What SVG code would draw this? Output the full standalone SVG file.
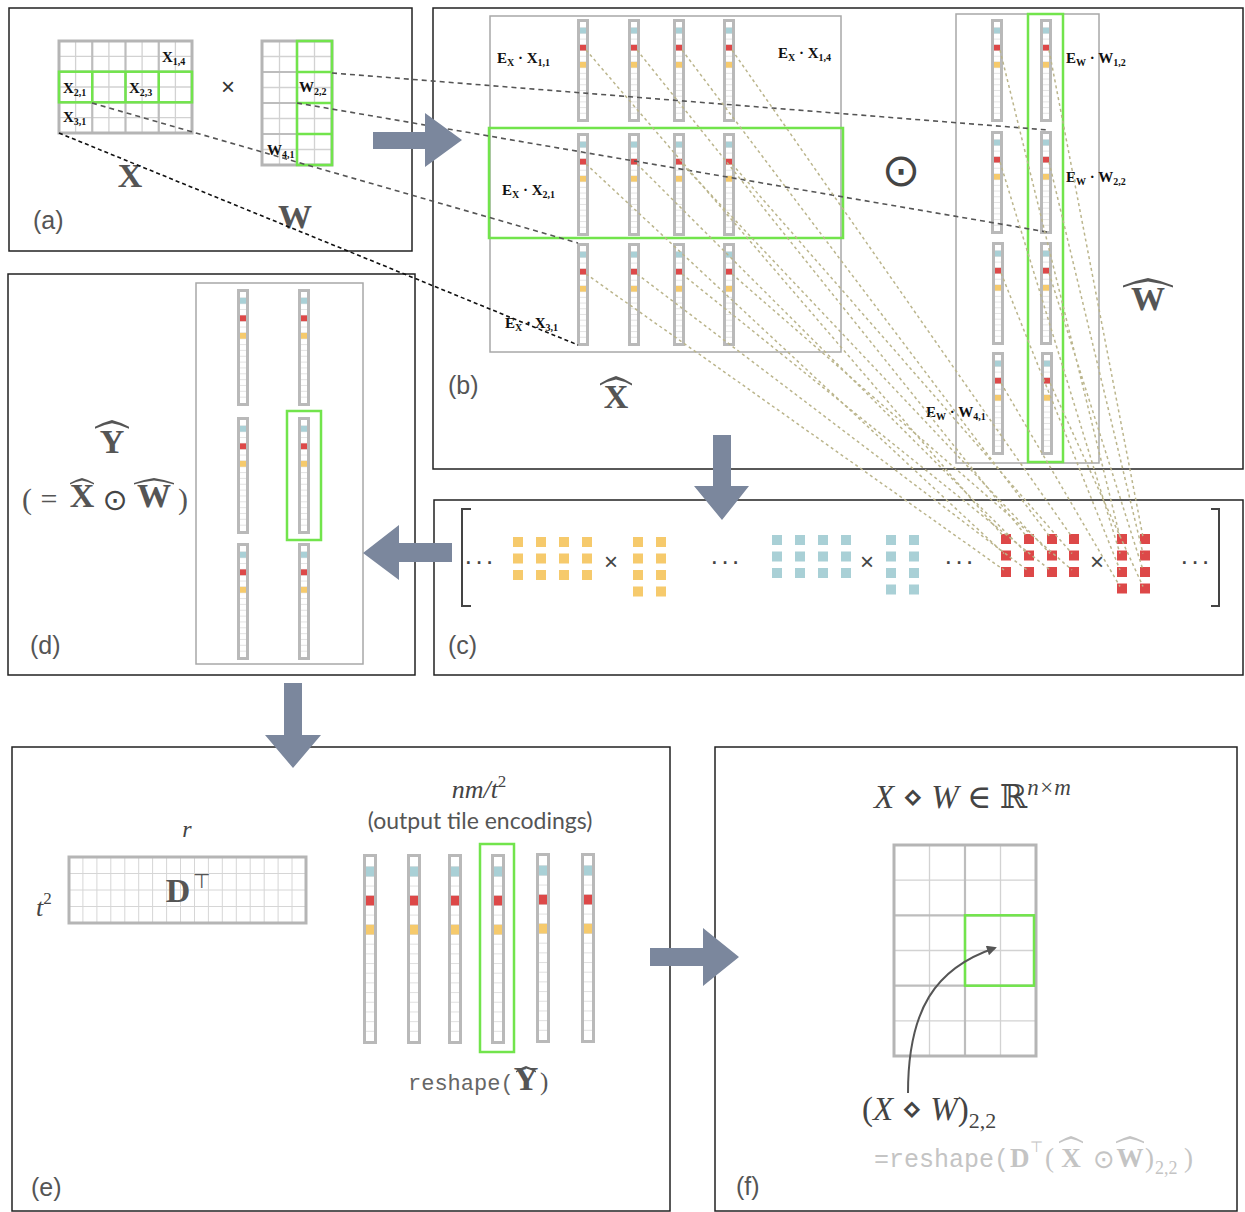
<svg xmlns="http://www.w3.org/2000/svg" width="1245" height="1212" viewBox="0 0 1245 1212">
<style>
.panel{fill:none;stroke:#222;stroke-width:1.5}
.inbox{fill:none;stroke:#a8a8a8;stroke-width:1.5}
.green{fill:none;stroke:#72e44c;stroke-width:2.5}
.gl{stroke:#72e44c;stroke-width:2.5;fill:none}
.thin{stroke:#d2d2d2;stroke-width:1.3;fill:none}
.thick{stroke:#bdbdbd;stroke-width:2.2;fill:none}
.outer{fill:none;stroke:#b5b5b5;stroke-width:3}
.lbl{font-family:"Liberation Sans",Arial,sans-serif;font-size:25px;fill:#555}
.bs{font-family:"Liberation Serif","Times New Roman",serif;font-weight:bold;fill:#111;font-size:15px}
.big{font-family:"Liberation Serif","Times New Roman",serif;font-weight:bold;font-size:34px;fill:#555}
.it{font-family:"Liberation Serif","DejaVu Serif",serif;font-style:italic;fill:#444}
.mono{font-family:"Liberation Mono","Courier New",monospace}
.arrow{fill:#7b879d}
.dg{stroke:#555;stroke-width:1.6;stroke-dasharray:5 4;fill:none}
.dk{stroke:#111;stroke-width:1.6;stroke-dasharray:4 3;fill:none}
.ol{stroke:#bbb58c;stroke-width:1.5;stroke-dasharray:3 3;fill:none}
.sy{fill:#f6ca6c}.st{fill:#a9d0d6}.sr{fill:#dd4848}
.hat{fill:#555}
.op{font-family:"DejaVu Sans",sans-serif;fill:#444}
</style>
<defs>
<path id="hat" d="M-1,0.62 Q-0.5,0.2 0,0 Q0.5,0.2 1,0.62 L1,0.8 Q0.5,0.42 0,0.3 Q-0.5,0.42 -1,0.8 Z"/>
<g id="vb">
<rect x="1.5" y="1.5" width="9" height="100" fill="#fff" stroke="#b9b9b9" stroke-width="3"/>
<path d="M3 8.71h6M3 14.41h6M3 20.12h6M3 25.82h6M3 31.53h6M3 37.24h6M3 42.94h6M3 48.65h6M3 54.35h6M3 60.06h6M3 65.77h6M3 71.47h6M3 77.18h6M3 82.88h6M3 88.59h6M3 94.3h6" stroke="#dcdcdc" stroke-width="0.8"/>
<rect x="3" y="8.71" width="6" height="5.7" fill="#a9d0d6"/>
<rect x="3" y="25.82" width="6" height="5.7" fill="#dd4848"/>
<rect x="3" y="42.94" width="6" height="5.7" fill="#f6ca6c"/>
</g>
<g id="vd">
<rect x="1.5" y="1.5" width="9" height="114" fill="#fff" stroke="#b9b9b9" stroke-width="3"/>
<path d="M3 8.84h6M3 14.68h6M3 20.53h6M3 26.37h6M3 32.21h6M3 38.05h6M3 43.89h6M3 49.74h6M3 55.58h6M3 61.42h6M3 67.26h6M3 73.1h6M3 78.95h6M3 84.79h6M3 90.63h6M3 96.47h6M3 102.32h6M3 108.16h6" stroke="#dcdcdc" stroke-width="0.8"/>
<rect x="3" y="8.84" width="6" height="5.84" fill="#a9d0d6"/>
<rect x="3" y="26.37" width="6" height="5.84" fill="#dd4848"/>
<rect x="3" y="43.89" width="6" height="5.84" fill="#f6ca6c"/>
</g>
<g id="ve">
<rect x="1.5" y="1.5" width="11" height="187" fill="#fff" stroke="#b9b9b9" stroke-width="3"/>
<path d="M3 12.68h8M3 22.37h8M3 32.05h8M3 41.74h8M3 51.42h8M3 61.1h8M3 70.79h8M3 80.47h8M3 90.16h8M3 99.84h8M3 109.52h8M3 119.21h8M3 128.89h8M3 138.58h8M3 148.26h8M3 157.94h8M3 167.63h8M3 177.31h8" stroke="#dcdcdc" stroke-width="0.9"/>
<rect x="3" y="12.68" width="8" height="9.68" fill="#a9d0d6"/>
<rect x="3" y="41.74" width="8" height="9.68" fill="#dd4848"/>
<rect x="3" y="70.79" width="8" height="9.68" fill="#f6ca6c"/>
</g>
<marker id="ah" viewBox="0 0 10 10" refX="8" refY="5" markerUnits="userSpaceOnUse" markerWidth="11" markerHeight="10" orient="auto"><path d="M0,0 L10,5 L0,10 z" fill="#555"/></marker>
</defs>
<rect width="1245" height="1212" fill="#fff"/>

<!-- Panel (a) -->
<g id="panel-a">
<rect class="panel" x="9" y="8" width="403" height="243"/>
<g id="matrix-X">
<path class="thin" d="M75.6 41V133M108.9 41V133M142.1 41V133M175.4 41V133M59 56.3H192M59 87H192M59 117.7H192"/>
<path class="thick" d="M92.25 41V133M125.5 41V133M158.75 41V133M59 71.7H192M59 102.3H192"/>
<rect class="outer" x="59" y="41" width="133" height="92"/>
<rect class="green" x="59" y="71.7" width="133" height="30.6"/>
<path class="gl" d="M92.25 71.7V102.3M125.5 71.7V102.3M158.75 71.7V102.3"/>
<text class="bs" x="162" y="62">X<tspan font-size="10" dy="3">1,4</tspan></text>
<text class="bs" x="63" y="93">X<tspan font-size="10" dy="3">2,1</tspan></text>
<text class="bs" x="129" y="93">X<tspan font-size="10" dy="3">2,3</tspan></text>
<text class="bs" x="63" y="122">X<tspan font-size="10" dy="3">3,1</tspan></text>
<text class="big" x="130" y="187" text-anchor="middle">X</text>
</g>
<text x="228" y="95" font-family="Liberation Sans,Arial,sans-serif" font-size="24" fill="#333" text-anchor="middle">×</text>
<g id="matrix-W">
<path class="thin" d="M279.5 41V165M314.5 41V165M262 56.5H332M262 87.5H332M262 118.5H332M262 149.5H332"/>
<path class="thick" d="M297 41V165M262 72H332M262 103H332M262 134H332"/>
<rect class="outer" x="262" y="41" width="70" height="124"/>
<rect class="green" x="297" y="41" width="35" height="124"/>
<path class="gl" d="M297 72H332M297 103H332M297 134H332"/>
<text class="bs" x="299" y="92">W<tspan font-size="10" dy="3">2,2</tspan></text>
<text class="bs" x="267" y="155">W<tspan font-size="10" dy="3">4,1</tspan></text>
<text class="big" x="295" y="228" text-anchor="middle">W</text>
</g>
<text class="lbl" x="33" y="229">(a)</text>
</g>

<!-- Panel (b) -->
<g id="panel-b">
<rect class="panel" x="433" y="8" width="810" height="461"/>
<g id="X-hat">
<rect class="inbox" x="490" y="16" width="351" height="336"/>
<use href="#vb" x="577" y="19"/><use href="#vb" x="628" y="19"/><use href="#vb" x="673" y="19"/><use href="#vb" x="723" y="19"/>
<use href="#vb" x="577" y="133"/><use href="#vb" x="628" y="133"/><use href="#vb" x="673" y="133"/><use href="#vb" x="723" y="133"/>
<use href="#vb" x="577" y="243"/><use href="#vb" x="628" y="243"/><use href="#vb" x="673" y="243"/><use href="#vb" x="723" y="243"/>
<rect class="green" x="489" y="128" width="354" height="110"/>
<text class="bs" x="497" y="63">E<tspan font-size="10" dy="3">X</tspan><tspan dy="-3"> · X</tspan><tspan font-size="10" dy="3">1,1</tspan></text>
<text class="bs" x="778" y="58">E<tspan font-size="10" dy="3">X</tspan><tspan dy="-3"> · X</tspan><tspan font-size="10" dy="3">1,4</tspan></text>
<text class="bs" x="502" y="195">E<tspan font-size="10" dy="3">X</tspan><tspan dy="-3"> · X</tspan><tspan font-size="10" dy="3">2,1</tspan></text>
<text class="bs" x="505" y="328">E<tspan font-size="10" dy="3">X</tspan><tspan dy="-3"> · X</tspan><tspan font-size="10" dy="3">3,1</tspan></text>
<use href="#hat" class="hat" transform="translate(616,376) scale(16,12)"/>
<text class="big" x="616" y="408" text-anchor="middle">X</text>
</g>
<text class="op" x="901" y="186" font-size="46" text-anchor="middle">⊙</text>
<g id="W-hat">
<rect class="inbox" x="956" y="14" width="143" height="449"/>
<use href="#vb" x="991" y="19"/><use href="#vb" x="1040" y="19"/>
<use href="#vb" x="991" y="131"/><use href="#vb" x="1040" y="131"/>
<use href="#vb" x="992" y="242"/><use href="#vb" x="1040" y="242"/>
<use href="#vb" x="992" y="352"/><use href="#vb" x="1041" y="352"/>
<rect class="green" x="1028" y="14" width="35" height="448"/>
<text class="bs" x="1066" y="63">E<tspan font-size="10" dy="3">W</tspan><tspan dy="-3"> · W</tspan><tspan font-size="10" dy="3">1,2</tspan></text>
<text class="bs" x="1066" y="182">E<tspan font-size="10" dy="3">W</tspan><tspan dy="-3"> · W</tspan><tspan font-size="10" dy="3">2,2</tspan></text>
<text class="bs" x="926" y="417">E<tspan font-size="10" dy="3">W</tspan><tspan dy="-3"> · W</tspan><tspan font-size="10" dy="3">4,1</tspan></text>
<use href="#hat" class="hat" transform="translate(1148,278) scale(25,12)"/>
<text class="big" x="1148" y="310" text-anchor="middle" font-size="36">W</text>
</g>
<text class="lbl" x="448" y="394">(b)</text>
</g>

<!-- Panel (c) -->
<g id="panel-c">
<rect class="panel" x="434" y="500" width="809" height="175"/>
<path d="M471 509H462V606H471M1211 509H1219V606H1211" fill="none" stroke="#444" stroke-width="2"/>
<g font-family="Liberation Sans,Arial,sans-serif" fill="#444" text-anchor="middle">
<text x="480" y="570" font-size="26" letter-spacing="2">···</text>
<text x="726" y="570" font-size="26" letter-spacing="2">···</text>
<text x="960" y="570" font-size="26" letter-spacing="2">···</text>
<text x="1196" y="570" font-size="26" letter-spacing="2">···</text>
<text x="611" y="570" font-size="24">×</text>
<text x="867" y="570" font-size="24">×</text>
<text x="1097" y="570" font-size="24">×</text>
</g>
<g id="yellow-tiles" class="sy">
<rect x="513" y="537" width="10" height="10"/><rect x="536" y="537" width="10" height="10"/><rect x="559" y="537" width="10" height="10"/><rect x="582" y="537" width="10" height="10"/>
<rect x="513" y="553.5" width="10" height="10"/><rect x="536" y="553.5" width="10" height="10"/><rect x="559" y="553.5" width="10" height="10"/><rect x="582" y="553.5" width="10" height="10"/>
<rect x="513" y="570" width="10" height="10"/><rect x="536" y="570" width="10" height="10"/><rect x="559" y="570" width="10" height="10"/><rect x="582" y="570" width="10" height="10"/>
<rect x="633" y="537" width="10" height="10"/><rect x="656" y="537" width="10" height="10"/>
<rect x="633" y="553.5" width="10" height="10"/><rect x="656" y="553.5" width="10" height="10"/>
<rect x="633" y="570" width="10" height="10"/><rect x="656" y="570" width="10" height="10"/>
<rect x="633" y="586.5" width="10" height="10"/><rect x="656" y="586.5" width="10" height="10"/>
</g>
<g id="teal-tiles" class="st">
<rect x="772" y="535" width="10" height="10"/><rect x="795" y="535" width="10" height="10"/><rect x="818" y="535" width="10" height="10"/><rect x="841" y="535" width="10" height="10"/>
<rect x="772" y="551.5" width="10" height="10"/><rect x="795" y="551.5" width="10" height="10"/><rect x="818" y="551.5" width="10" height="10"/><rect x="841" y="551.5" width="10" height="10"/>
<rect x="772" y="568" width="10" height="10"/><rect x="795" y="568" width="10" height="10"/><rect x="818" y="568" width="10" height="10"/><rect x="841" y="568" width="10" height="10"/>
<rect x="886" y="535" width="10" height="10"/><rect x="909" y="535" width="10" height="10"/>
<rect x="886" y="551.5" width="10" height="10"/><rect x="909" y="551.5" width="10" height="10"/>
<rect x="886" y="568" width="10" height="10"/><rect x="909" y="568" width="10" height="10"/>
<rect x="886" y="584.5" width="10" height="10"/><rect x="909" y="584.5" width="10" height="10"/>
</g>
<g id="red-tiles" class="sr">
<rect x="1001" y="534" width="10" height="10"/><rect x="1024" y="534" width="10" height="10"/><rect x="1047" y="534" width="10" height="10"/><rect x="1069" y="534" width="10" height="10"/>
<rect x="1001" y="550.5" width="10" height="10"/><rect x="1024" y="550.5" width="10" height="10"/><rect x="1047" y="550.5" width="10" height="10"/><rect x="1069" y="550.5" width="10" height="10"/>
<rect x="1001" y="567" width="10" height="10"/><rect x="1024" y="567" width="10" height="10"/><rect x="1047" y="567" width="10" height="10"/><rect x="1069" y="567" width="10" height="10"/>
<rect x="1117" y="534" width="10" height="10"/><rect x="1140" y="534" width="10" height="10"/>
<rect x="1117" y="550.5" width="10" height="10"/><rect x="1140" y="550.5" width="10" height="10"/>
<rect x="1117" y="567" width="10" height="10"/><rect x="1140" y="567" width="10" height="10"/>
<rect x="1117" y="583.5" width="10" height="10"/><rect x="1140" y="583.5" width="10" height="10"/>
</g>
<text class="lbl" x="448" y="654">(c)</text>
</g>

<!-- Panel (d) -->
<g id="panel-d">
<rect class="panel" x="8" y="274" width="407" height="401"/>
<g id="Y-hat">
<rect class="inbox" x="196" y="283" width="167" height="381"/>
<use href="#vd" x="237" y="289"/><use href="#vd" x="298" y="289"/>
<use href="#vd" x="237" y="417"/><use href="#vd" x="298" y="417"/>
<use href="#vd" x="237" y="543"/><use href="#vd" x="298" y="543"/>
<rect class="green" x="287" y="411" width="34" height="129"/>
</g>
<use href="#hat" class="hat" transform="translate(112,420) scale(17,11)"/>
<text class="big" x="112" y="453" text-anchor="middle">Y</text>
<g font-family="Liberation Serif,serif" font-size="30" fill="#555">
<text x="22" y="509">(</text>
<text x="49" y="509" text-anchor="middle">=</text>
<text x="178" y="509">)</text>
</g>
<use href="#hat" class="hat" transform="translate(82,478) scale(12,8)"/>
<text class="big" x="82" y="507" text-anchor="middle" font-size="30">X</text>
<text class="op" x="115" y="510" font-size="30" text-anchor="middle">⊙</text>
<use href="#hat" class="hat" transform="translate(154,478) scale(20,8)"/>
<text class="big" x="154" y="507" text-anchor="middle" font-size="30">W</text>
<text class="lbl" x="30" y="654">(d)</text>
</g>

<!-- Panel (e) -->
<g id="panel-e">
<rect class="panel" x="12" y="747" width="658" height="464"/>
<g id="D-transpose">
<path stroke="#d6d6d6" stroke-width="1" fill="none" d="M82.9 857V923M96.9 857V923M110.8 857V923M124.8 857V923M138.7 857V923M152.6 857V923M166.6 857V923M180.5 857V923M194.5 857V923M208.4 857V923M222.3 857V923M236.3 857V923M250.2 857V923M264.2 857V923M278.1 857V923M292 857V923M69 873.5H306M69 890H306M69 906.5H306"/>
<rect class="outer" x="69" y="857" width="237" height="66"/>
<text class="big" x="178" y="902" text-anchor="middle" fill="#444">D</text>
<text x="193" y="888" font-family="Liberation Sans,Arial,sans-serif" font-size="20" fill="#555">⊤</text>
<text class="it" x="187" y="837" font-size="24" text-anchor="middle">r</text>
<text class="it" x="36" y="916" font-size="26">t<tspan font-size="17" dy="-12" font-style="normal">2</tspan></text>
</g>
<g id="tile-encodings">
<text class="it" x="479" y="798" font-size="26" text-anchor="middle">nm/t<tspan font-size="17" dy="-11" font-style="normal">2</tspan></text>
<text x="480" y="829" font-family="Lato,'Open Sans',sans-serif" font-size="23" fill="#555" text-anchor="middle">(output tile encodings)</text>
<use href="#ve" x="363" y="854"/><use href="#ve" x="407" y="854"/><use href="#ve" x="448" y="854"/><use href="#ve" x="491" y="854"/><use href="#ve" x="536" y="853"/><use href="#ve" x="581" y="853"/>
<rect class="green" x="480" y="844" width="34" height="208"/>
<text class="mono" x="408" y="1090" font-size="22" fill="#666">reshape(</text>
<use href="#hat" class="hat" transform="translate(526,1066) scale(10,8)"/>
<text class="big" x="526" y="1090" font-size="25" text-anchor="middle">Y</text>
<text x="540" y="1090" font-family="Liberation Serif,serif" font-size="25" fill="#555">)</text>
</g>
<text class="lbl" x="31" y="1196">(e)</text>
</g>

<!-- Panel (f) -->
<g id="panel-f">
<rect class="panel" x="715" y="747" width="522" height="464"/>
<text x="874" y="808" font-family="Liberation Serif,'DejaVu Serif',serif" font-size="33" fill="#444"><tspan font-style="italic">X</tspan> ⋄ <tspan font-style="italic">W</tspan> ∈ ℝ<tspan font-size="23" dy="-13" font-style="italic">n×m</tspan></text>
<g id="result-grid">
<path class="thin" d="M929.5 845V1056M1000.5 845V1056M894 880.2H1036M894 950.5H1036M894 1020.8H1036"/>
<path class="thick" d="M965 845V1056M894 915.3H1036M894 985.7H1036"/>
<rect class="outer" x="894" y="845" width="142" height="211"/>
<rect class="green" x="965" y="915.3" width="69" height="70.4"/>
</g>
<path d="M908 1093C908 1010 935 968 995 948" fill="none" stroke="#555" stroke-width="2" marker-end="url(#ah)"/>
<text x="862" y="1120" font-family="Liberation Serif,'DejaVu Serif',serif" font-size="33" fill="#444">(<tspan font-style="italic">X</tspan> ⋄ <tspan font-style="italic">W</tspan>)<tspan font-size="22" dy="8">2,2</tspan></text>
<g fill="#c4c4c4">
<text class="mono" x="874" y="1167" font-size="25">=reshape(</text>
<text x="1010" y="1167" font-family="Liberation Serif,serif" font-weight="bold" font-size="27">D</text>
<text x="1030" y="1152" font-family="Liberation Sans,Arial,sans-serif" font-size="15">⊤</text>
<text x="1045" y="1167" font-family="Liberation Serif,serif" font-size="27">(</text>
<use href="#hat" fill="#c4c4c4" transform="translate(1071,1136) scale(12,9)"/>
<text x="1071" y="1167" font-family="Liberation Serif,serif" font-weight="bold" font-size="27" text-anchor="middle">X</text>
<text x="1104" y="1168" font-family="DejaVu Sans,sans-serif" font-size="26" text-anchor="middle">⊙</text>
<use href="#hat" fill="#c4c4c4" transform="translate(1130,1136) scale(14,9)"/>
<text x="1130" y="1167" font-family="Liberation Serif,serif" font-weight="bold" font-size="27" text-anchor="middle">W</text>
<text x="1145" y="1167" font-family="Liberation Serif,serif" font-size="27">)</text>
<text x="1155" y="1174" font-family="Liberation Serif,serif" font-size="18">2,2</text>
<text x="1184" y="1167" font-family="Liberation Serif,serif" font-size="27">)</text>
</g>
<text class="lbl" x="736" y="1195">(f)</text>
</g>

<!-- Connectors -->
<g id="connectors">
<path class="dg" d="M332 73L1048 130"/>
<path class="dg" d="M297 103L1047 232"/>
<path class="dg" d="M92 103L578 243"/>
<path class="dk" d="M59 133L578 345"/>
<g class="ol">
<path d="M586 50L1004 537M637 50L1027 537M682 50L1050 537M732 50L1072 537"/>
<path d="M586 164L1004 553.5M637 164L1027 553.5M682 164L1050 553.5M732 164L1072 553.5"/>
<path d="M586 274L1004 570M637 274L1027 570M682 274L1050 570M732 274L1072 570"/>
<path d="M1000 50L1120 537M1049 50L1143 537M1000 162L1120 553.5M1049 162L1143 553.5M1001 273L1120 570M1049 273L1143 570M1001 383L1120 586.5M1050 383L1143 586.5"/>
</g>
<polygon class="arrow" points="373,132 425,132 425,113 462,140 425,167 425,149 373,149"/>
<polygon class="arrow" points="713,435 731,435 731,486 749,486 722,520 694,486 713,486"/>
<polygon class="arrow" points="452,543 399,543 399,525 363,553 399,580 399,562 452,562"/>
<polygon class="arrow" points="284,683 302,683 302,735 321,735 293,768 265,735 284,735"/>
<polygon class="arrow" points="650,948 703,948 703,928 739,957 703,986 703,966 650,966"/>
</g>
</svg>
